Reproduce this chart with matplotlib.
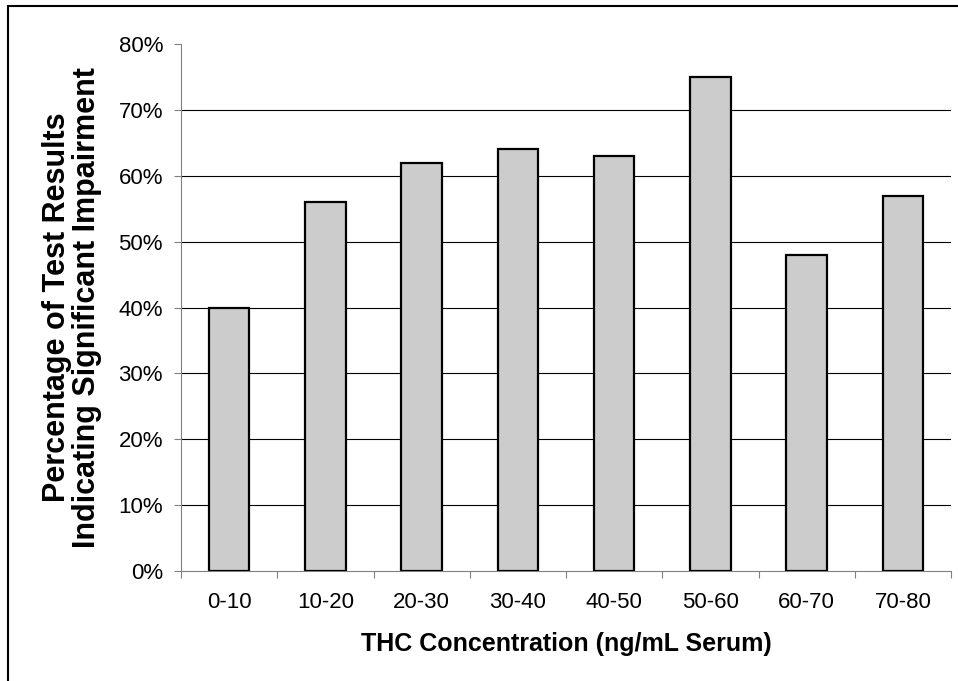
import matplotlib.pyplot as plt
import numpy as np
from matplotlib.patches import Rectangle
from matplotlib.ticker import PercentFormatter

plt.rcParams['font.family'] = ['Liberation Sans', 'DejaVu Sans']

categories = ['0-10', '10-20', '20-30', '30-40', '40-50', '50-60', '60-70', '70-80']
pct_impaired = [40, 56, 62, 64, 63, 75, 48, 57]
y_ticks = [0, 10, 20, 30, 40, 50, 60, 70, 80]

fig = plt.figure(figsize=(9.58, 6.81), dpi=100)
ax = fig.add_axes([0.189, 0.1615, 0.8037, 0.7739])

x = np.arange(len(categories))
ax.bar(x, pct_impaired, width=0.42, color='#CCCCCC', edgecolor='black', linewidth=1.6, zorder=3)

ax.set_xlim(-0.5, len(categories) - 0.5)
ax.set_ylim(0, 80)
ax.set_yticks(y_ticks)
ax.yaxis.set_major_formatter(PercentFormatter(decimals=0))

# horizontal gridlines, none on the top edge
for v in y_ticks[1:-1]:
    ax.axhline(v, color='black', linewidth=0.8, zorder=1)

# labels at centers, tick marks at category boundaries
ax.set_xticks(x)
ax.set_xticklabels(categories)
ax.set_xticks(np.arange(len(categories) + 1) - 0.5, minor=True)
ax.tick_params(axis='x', which='major', length=0, pad=15, labelsize=16)
ax.tick_params(axis='x', which='minor', length=5, width=0.8, color='#808080', direction='out')
ax.tick_params(axis='y', length=5, width=0.8, color='#808080', direction='out', pad=8, labelsize=16)

for side in ['top', 'right']:
    ax.spines[side].set_visible(False)
for side in ['left', 'bottom']:
    ax.spines[side].set_color('#808080')
    ax.spines[side].set_linewidth(0.8)

ax.set_xlabel('THC Concentration (ng/mL Serum)', fontsize=18, fontweight='bold', labelpad=14)
ax.set_ylabel('Percentage of Test Results\nIndicating Significant Impairment',
              fontsize=22, fontweight='bold', labelpad=12, linespacing=0.98)

# outer chart frame, cut off at the right and bottom of the image
fig.patches.append(Rectangle((8 / 958, -0.05), 1.1, 1 - 6 / 681 + 0.05,
                             transform=fig.transFigure, fill=False,
                             edgecolor='black', linewidth=1.5))

fig.savefig('out.png', dpi=100)
